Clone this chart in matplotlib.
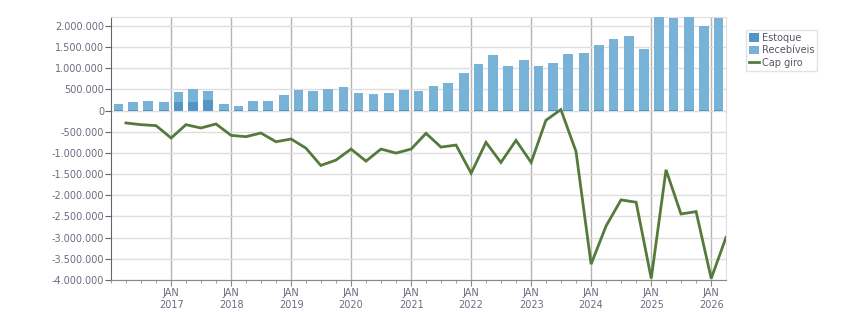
import matplotlib
matplotlib.use("Agg")
import matplotlib.pyplot as plt
import matplotlib.dates as mdates
from matplotlib.ticker import FixedLocator, FuncFormatter
from matplotlib.patches import Patch
from matplotlib.lines import Line2D
import numpy as np
import datetime as dt

# Quarter start dates (Q1 2016 .. Q1 2026)
quarters = [f"{y}-{m:02d}-01" for y in range(2016, 2027) for m in (1, 4, 7, 10)][:41]

estoque = [10000, 10000, 10000, 10000, 214000, 214000, 246000, 10000, 10000, 10000,
           10000, 10000, 10000, 10000, 10000, 10000, 10000, 10000, 10000, 10000,
           10000, 10000, 10000, 10000, 10000, 10000, 10000, 10000, 10000, 10000,
           10000, 10000, 10000, 10000, 10000, 10000, 10000, 10000, 10000, 10000,
           10000]
total_bars = [167000, 214000, 238000, 214000, 429000, 500000, 452000, 167000, 119000, 238000,
              238000, 357000, 476000, 452000, 500000, 548000, 405000, 381000, 405000, 476000,
              452000, 571000, 643000, 881000, 1095000, 1310000, 1048000, 1190000, 1048000, 1119000,
              1333000, 1357000, 1548000, 1690000, 1762000, 1452000, 2260000, 2190000, 2260000, 2000000,
              2190000]
recebiveis = [t - e for t, e in zip(total_bars, estoque)]

cap_giro = [-292000, -332000, -355000, -648000, -332000, -411000, -316000, -585000, -616000, -529000,
            -735000, -671000, -885000, -1295000, -1169000, -908000, -1193000, -908000, -1003000, -908000,
            -537000, -861000, -814000, -1477000, -750000, -1224000, -703000, -1224000, -229000, 24000,
            -964000, -3626000, -2725000, -2109000, -2164000, -3965000, -1398000, -2441000, -2385000, -3965000,
            -2994000]

year_ticks = list(range(2017, 2027))

# derived positions
starts = [dt.datetime.strptime(q, "%Y-%m-%d") for q in quarters]
ends = []
for s in starts:
    m = s.month + 3
    y = s.year + (1 if m > 12 else 0)
    m = m - 12 if m > 12 else m
    ends.append(dt.datetime(y, m, 1))
s_num = mdates.date2num(starts)
e_num = mdates.date2num(ends)
centers = (s_num + e_num) / 2
widths = (e_num - s_num) * 0.66

light = "#78b2d6"
dark = "#5495c4"
green = "#557a3b"
tick_col = "#6e6a82"

plt.rcParams['font.family'] = ['DejaVu Sans']
fig = plt.figure(figsize=(8.51, 3.13), dpi=100)
ax = fig.add_axes([111/851, 1 - 280/313, (726-111)/851, (280-17)/313])

ax.bar(centers, estoque, width=widths, color=dark, zorder=3, linewidth=0)
ax.bar(centers, recebiveis, width=widths, bottom=estoque, color=light, zorder=3, linewidth=0)
ax.plot(e_num, cap_giro, color=green, lw=2.0, zorder=4, solid_joinstyle='miter')

ax.set_xlim(mdates.date2num(dt.datetime(2016, 1, 1)), mdates.date2num(dt.datetime(2026, 4, 1)))
ax.set_ylim(-4000000, 2210000)

yt = np.arange(-4000000, 2000001, 500000)
ax.yaxis.set_major_locator(FixedLocator(yt))
ax.yaxis.set_major_formatter(FuncFormatter(lambda v, p: f"{int(v):,}".replace(",", ".")))
xt = mdates.date2num([dt.datetime(y, 1, 1) for y in year_ticks])
ax.xaxis.set_major_locator(FixedLocator(xt))
ax.set_xticklabels([f"JAN\n{y}" for y in year_ticks])
ax.xaxis.set_minor_locator(FixedLocator(s_num))

ax.grid(axis='y', color='#dedede', lw=1.0, zorder=0)
ax.grid(axis='x', which='major', color='#b4b4b4', lw=1.0, zorder=1)
ax.set_axisbelow(True)

for sp in ['top', 'right']:
    ax.spines[sp].set_color('#dedede')
ax.spines['left'].set_color('#666666')
ax.spines['bottom'].set_color('#888888')

ax.tick_params(axis='y', length=4, color='#666666', labelsize=7, labelcolor=tick_col, pad=1)
ax.tick_params(axis='x', which='major', length=4, color='#888888', labelsize=7, labelcolor=tick_col, pad=2)
ax.tick_params(axis='x', which='minor', length=2, color='#888888')

handles = [Patch(facecolor=dark, edgecolor='none'),
           Patch(facecolor=light, edgecolor='none'),
           Line2D([0], [0], color=green, lw=2)]
leg = fig.legend(handles, ["Estoque", "Recebíveis", "Cap giro"],
                 loc='upper left', bbox_to_anchor=(746/851, 1 - 30/313),
                 fontsize=7, frameon=True, fancybox=False, handlelength=1.0, handleheight=1.0,
                 handletextpad=0.3, borderpad=0.3, labelspacing=0.25, borderaxespad=0)
leg.get_frame().set_edgecolor('#dddddd')
leg.get_frame().set_linewidth(1.0)
for t in leg.get_texts():
    t.set_color('#555566')

fig.savefig("out.png", dpi=100)
